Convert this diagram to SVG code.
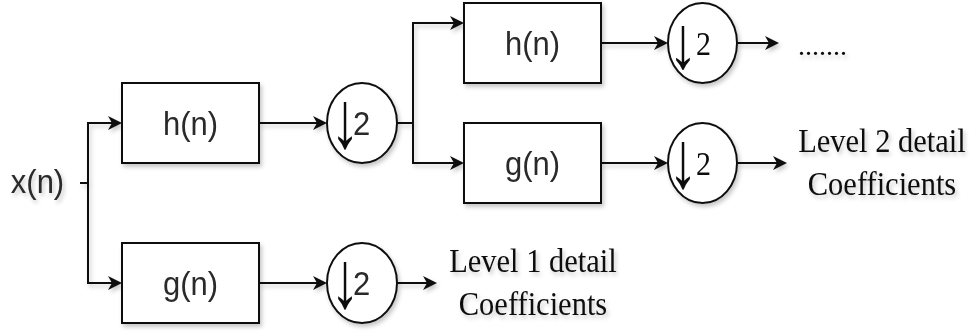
<svg xmlns="http://www.w3.org/2000/svg" width="971" height="331" viewBox="0 0 971 331">
  <style>
    .box { fill: #ffffff; stroke: #111111; stroke-width: 2; }
    .wire { fill: none; stroke: #111111; stroke-width: 2; }
    .arr { marker-end: url(#ah); }
    .sans { font-family: "Liberation Sans", Arial, sans-serif; font-size: 31px; fill: #2a2a2a; text-anchor: middle; }
    .serif { font-family: "Liberation Serif", "Times New Roman", serif; font-size: 30.5px; fill: #111111; text-anchor: middle; }
    .ds { font-size: 30px; }
    .down { font-family: "Liberation Sans", Arial, sans-serif; font-size: 31px; fill: #111111; text-anchor: middle; letter-spacing: -5px; }
  </style>
  <defs>
    <marker id="ah" markerUnits="userSpaceOnUse" markerWidth="15" markerHeight="15" refX="12" refY="7" orient="auto" viewBox="0 0 15 15">
      <path d="M0,0 L14,7 L0,14 L4,7 Z" fill="#111111"/>
    </marker>
    <filter id="sh" x="-5%" y="-5%" width="110%" height="115%">
      <feDropShadow dx="2" dy="3" stdDeviation="2" flood-color="#000000" flood-opacity="0.22"/>
    </filter>
  </defs>
  <rect width="971" height="331" fill="#ffffff"/>
  <g filter="url(#sh)">
    <g id="connectors">
      <path class="wire" d="M80,183 L88,183"/>
      <path class="wire arr" d="M88,183 L88,123 L120,123"/>
      <path class="wire arr" d="M88,183 L88,283 L120,283"/>
      <path class="wire arr" d="M259,123 L325,123"/>
      <path class="wire arr" d="M259,283 L325,283"/>
      <path class="wire arr" d="M397,283 L435,283"/>
      <path class="wire" d="M397,123 L413,123"/>
      <path class="wire arr" d="M413,123 L413,23 L462,23"/>
      <path class="wire arr" d="M413,123 L413,163 L462,163"/>
      <path class="wire arr" d="M601,43 L666,43"/>
      <path class="wire arr" d="M601,163 L666,163"/>
      <path class="wire arr" d="M737,43 L777,43"/>
      <path class="wire arr" d="M737,163 L785,163"/>
    </g>
    <g id="input">
      <text class="sans" transform="translate(37.5,193) scale(1,1.1)">x(n)</text>
    </g>
    <g id="h1">
      <rect class="box" x="122" y="83" width="137" height="80"/>
      <text class="sans" transform="translate(190.5,135) scale(1,1.1)">h(n)</text>
    </g>
    <g id="g1">
      <rect class="box" x="122" y="243" width="137" height="80"/>
      <text class="sans" transform="translate(190.5,295) scale(1,1.1)">g(n)</text>
    </g>
    <g id="down1">
      <ellipse class="box" cx="362" cy="123" rx="35" ry="40"/>
      <text class="down" transform="translate(340.25,147) scale(1.9,2.6)">↓</text>
      <text class="sans" style="text-anchor:start" transform="translate(353,135) scale(1,1.1)">2</text>
    </g>
    <g id="down1b">
      <ellipse class="box" cx="362" cy="283" rx="35" ry="40"/>
      <text class="down" transform="translate(340.25,307) scale(1.9,2.6)">↓</text>
      <text class="sans" style="text-anchor:start" transform="translate(353,295) scale(1,1.1)">2</text>
    </g>
    <g id="level1">
      <text class="serif" transform="translate(533,272) scale(1,1.1)">Level 1 detail</text>
      <text class="serif" transform="translate(533,315) scale(1,1.1)">Coefficients</text>
    </g>
    <g id="h2">
      <rect class="box" x="464" y="3" width="137" height="80"/>
      <text class="sans" transform="translate(532.5,55) scale(1,1.1)">h(n)</text>
    </g>
    <g id="g2">
      <rect class="box" x="464" y="123" width="137" height="80"/>
      <text class="sans" transform="translate(532.5,175) scale(1,1.1)">g(n)</text>
    </g>
    <g id="down2">
      <ellipse class="box" cx="702.5" cy="43" rx="34.5" ry="40"/>
      <text class="down" transform="translate(678.25,67.8) scale(1.9,2.4)">↓</text>
      <text class="serif ds" style="text-anchor:start" transform="translate(696,55) scale(1,1.1)">2</text>
    </g>
    <g id="down2b">
      <ellipse class="box" cx="702.5" cy="163" rx="34.5" ry="40"/>
      <text class="down" transform="translate(678.25,187) scale(1.9,2.6)">↓</text>
      <text class="serif ds" style="text-anchor:start" transform="translate(696,175) scale(1,1.1)">2</text>
    </g>
    <g id="more">
      <text class="serif" style="font-size:28px;text-anchor:start" transform="translate(798,55)">.......</text>
    </g>
    <g id="level2">
      <text class="serif" transform="translate(882,152) scale(1,1.1)">Level 2 detail</text>
      <text class="serif" transform="translate(882,195) scale(1,1.1)">Coefficients</text>
    </g>
  </g>
</svg>
